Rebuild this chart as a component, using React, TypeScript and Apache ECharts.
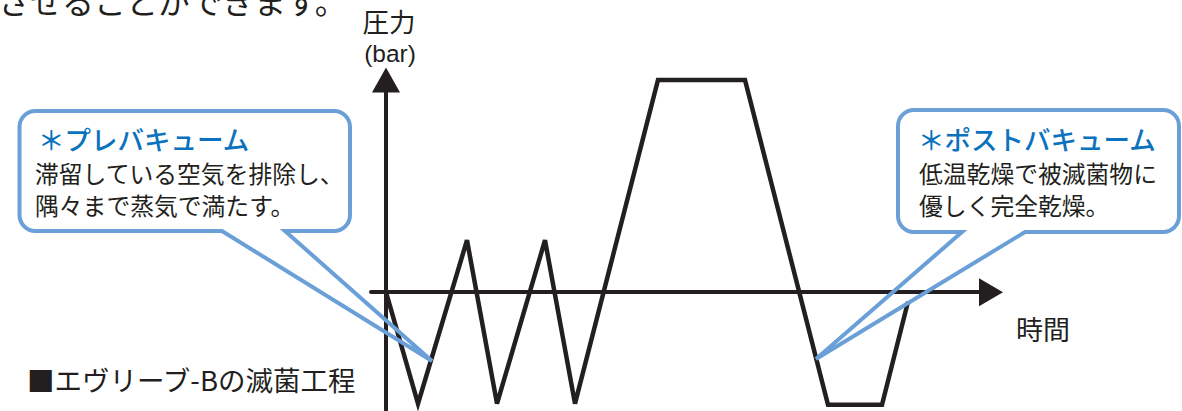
import React, { useEffect, useRef } from "react";
import * as echarts from "echarts";

// Sterilisation cycle (schematic): time vs pressure
const times = [0, 3.2, 8.1, 11.1, 15.9, 18.9, 27.2, 35.9, 44.2, 49.6, 52.2];
const pressure = [0, -1.05, 0.49, -1.05, 0.49, -1.05, 2.0, 2.0, -1.06, -1.06, -0.09];

const yAxisTitle = "圧力";
const yAxisUnit = "(bar)";
const xAxisTitle = "時間";
const caption = "■エヴリーブ-Bの滅菌工程";
const topText = "させることができます。";
const preTitle = "＊プレバキューム";
const preLines = ["滞留している空気を排除し、", "隅々まで蒸気で満たす。"];
const postTitle = "＊ポストバキューム";
const postLines = ["低温乾燥で被滅菌物に", "優しく完全乾燥。"];

const INK = "#231f20";
const BLUE_LINE = "#6a9fd7";
const BLUE_TEXT = "#0b72bd";
const FONT = '"Noto Sans CJK JP", "Noto Sans", sans-serif';
const LATIN = '"Liberation Sans", Arial, sans-serif';

const leftCallout =
  "M 35.5 111 L 334 111 A 16 16 0 0 1 350 127 L 350 215 A 16 16 0 0 1 334 231 L 285 231 L 432 361 L 222 231 L 35.5 231 A 16 16 0 0 1 19.5 215 L 19.5 127 A 16 16 0 0 1 35.5 111 Z";
const rightCallout =
  "M 914 110 L 1163 110 A 16 16 0 0 1 1179 126 L 1179 216 A 16 16 0 0 1 1163 232 L 1025 232 L 816 359 L 962 232 L 914 232 A 16 16 0 0 1 898 216 L 898 126 A 16 16 0 0 1 914 110 Z";

let registered = false;
function registerShapes() {
  if (registered) return;
  echarts.graphic.registerShape("calloutLeft", echarts.graphic.extendPath(leftCallout, {}));
  echarts.graphic.registerShape("calloutRight", echarts.graphic.extendPath(rightCallout, {}));
  registered = true;
}

function txt(
  text: string,
  x: number,
  y: number,
  size: number,
  color = INK,
  align = "left",
  weight: any = "normal",
  family = FONT
) {
  return {
    type: "text",
    x,
    y,
    z: 20,
    style: {
      text,
      fill: color,
      font: `${weight} ${size}px ${family}`,
      fontSize: size,
      fontFamily: family,
      fontWeight: weight,
      lineHeight: Math.round(size * 1.05),
      textAlign: align,
      textVerticalAlign: "middle",
      verticalAlign: "middle",
    },
  };
}

export default function App() {
  const ref = useRef<HTMLDivElement>(null);
  useEffect(() => {
    if (!ref.current) return;
    registerShapes();
    const chart = echarts.init(ref.current, undefined, { renderer: "svg" });
    const calloutStyle = {
      fill: "none",
      stroke: BLUE_LINE,
      lineWidth: 4,
      lineJoin: "miter",
      miterLimit: 4,
    };
    chart.setOption({
      animation: false,
      backgroundColor: "#ffffff",
      grid: { left: 371, right: 191, top: 80, bottom: 1 },
      xAxis: {
        type: "value",
        min: -1.5,
        max: 60.5,
        axisLabel: { show: false },
        axisTick: { show: false },
        splitLine: { show: false },
        axisLine: {
          onZero: true,
          symbol: ["none", "triangle"],
          symbolSize: [28, 24],
          lineStyle: { color: INK, width: 4 },
        },
      },
      yAxis: {
        type: "value",
        min: -1.11,
        max: 2.0,
        axisLabel: { show: false },
        axisTick: { show: false },
        splitLine: { show: false },
        axisLine: {
          onZero: true,
          symbol: ["none", "triangle"],
          symbolSize: [28, 25],
          lineStyle: { color: INK, width: 4 },
        },
      },
      series: [
        {
          type: "line",
          data: times.map((t, i) => [t, pressure[i]]),
          symbol: "none",
          clip: false,
          z: 3,
          lineStyle: { color: INK, width: 4.5, join: "miter", miterLimit: 10 },
        },
      ],
      graphic: [
        { type: "calloutLeft", x: 0, y: 0, z: 15, style: calloutStyle },
        { type: "calloutRight", x: 0, y: 0, z: 15, style: calloutStyle },
        txt(topText, -2, 0, 32),
        txt(yAxisTitle, 389, 20, 26.5, INK, "center"),
        txt(yAxisUnit, 390, 53, 24.5, INK, "center", "normal", LATIN),
        txt(xAxisTitle, 1016, 328, 27),
        txt(caption, 27, 379, 27.5),
        txt(preTitle, 38, 138, 26.5, BLUE_TEXT, "left", 500),
        txt(preLines[0], 35, 172.5, 23.8),
        txt(preLines[1], 35, 204, 23.8),
        txt(postTitle, 918, 138, 26.5, BLUE_TEXT, "left", 500),
        txt(postLines[0], 919, 172.5, 23.8),
        txt(postLines[1], 919, 204, 23.8),
      ],
    });
    return () => chart.dispose();
  }, []);
  return (
    <div
      ref={ref}
      style={{ position: "absolute", left: 0, top: 0, width: 1182, height: 411 }}
    />
  );
}
